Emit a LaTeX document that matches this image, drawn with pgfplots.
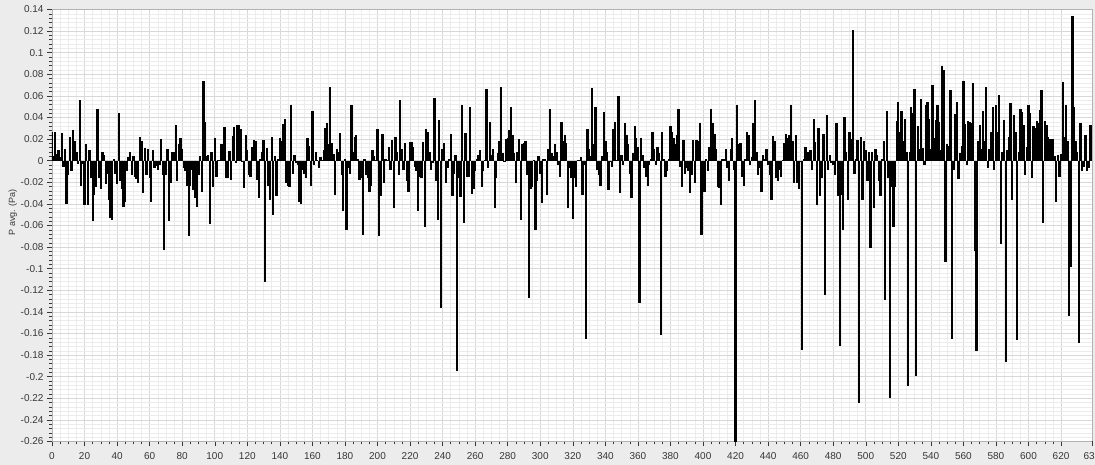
\documentclass[border=0pt]{standalone}
\usepackage{fontspec}
\setmainfont{Liberation Sans}
\usepackage{pgfplots}
\pgfplotsset{compat=1.18}
\definecolor{bgray}{RGB}{236,236,236}
\definecolor{majgrid}{RGB}{216,216,216}
\definecolor{mingrid}{RGB}{236,236,236}
\definecolor{ticktext}{RGB}{55,55,55}
\begin{document}
\begin{tikzpicture}
\fill[bgray] (-52pt,-23.5pt) rectangle (1043pt,441.5pt);
\begin{axis}[
  at={(0pt,0pt)}, anchor=south west,
  scale only axis, width=1040pt, height=432pt,
  xmin=0, xmax=639, ymin=-0.26, ymax=0.14,
  axis background/.style={fill=white},
  /pgf/number format/assume math mode=true,
  xtick={0,20,...,620},
  extra x ticks={639}, extra x tick labels={639},
  extra x tick style={grid=none},
  ytick={-0.26,-0.24,-0.22,-0.2,-0.18,-0.16,-0.14,-0.12,-0.1,-0.08,-0.06,-0.04,-0.02,0,0.02,0.04,0.06,0.08,0.1,0.12,0.14},
  yticklabels={-0.26,-0.24,-0.22,-0.2,-0.18,-0.16,-0.14,-0.12,-0.1,-0.08,-0.06,-0.04,-0.02,0,0.02,0.04,0.06,0.08,0.1,0.12,0.14},
  minor x tick num=3, minor y tick num=4,
  grid=both,
  major grid style={majgrid, line width=0.6pt},
  minor grid style={mingrid, line width=0.5pt},
  tick align=outside, tick pos=left,
  major tick length=5pt, minor tick length=3pt,
  tick style={ticktext, line width=0.5pt},
  axis line style={gray!60},
  ticklabel style={font=\fontsize{10}{12}\selectfont, text=ticktext},
  x tick label style={yshift=-2pt},
  ylabel={P avg. (Pa)},
  ylabel style={font=\fontsize{9}{11}\selectfont, text=ticktext, at={(axis description cs:-0.0376,0.531)}, anchor=center},
]
\addplot[ycomb, black, line width=2.3pt, mark=none] coordinates {
(0,0.027)(1,0.004)(2,0.027)(3,0.006)(4,0.010)(5,0.003)(6,0.026)(7,-0.006)(8,0.011)(9,-0.040)
(10,-0.013)(11,0.022)(12,-0.010)(13,0.028)(14,0.018)(15,0.008)(16,-0.003)(17,0.056)(18,-0.023)(19,-0.003)
(20,-0.041)(21,0.015)(22,-0.041)(23,0.010)(24,-0.016)(25,-0.056)(26,-0.032)(27,-0.024)(28,0.048)(29,-0.016)
(30,-0.026)(31,0.008)(32,0.005)(33,-0.022)(34,-0.012)(35,-0.036)(36,-0.053)(37,-0.055)(38,0.002)(39,-0.012)
(40,-0.022)(41,0.044)(42,-0.019)(43,-0.026)(44,-0.043)(45,-0.038)(46,-0.010)(47,0.003)(48,0.008)(49,-0.013)
(50,0.004)(51,-0.015)(52,-0.017)(53,-0.021)(54,0.022)(55,0.018)(56,-0.030)(57,0.012)(58,-0.013)(59,0.011)
(60,-0.016)(61,-0.038)(62,0.010)(63,-0.007)(64,-0.005)(65,-0.009)(66,-0.004)(67,0.020)(68,-0.013)(69,-0.083)
(70,-0.013)(71,0.011)(72,-0.056)(73,-0.021)(74,0.008)(75,0.008)(76,0.033)(77,-0.019)(78,0.015)(79,0.021)
(80,0.011)(81,-0.007)(82,-0.010)(83,-0.023)(84,-0.070)(85,-0.023)(86,-0.009)(87,-0.027)(88,-0.035)(89,-0.043)
(90,-0.013)(91,0.004)(92,-0.029)(93,0.074)(94,0.036)(95,0.004)(96,0.005)(97,-0.059)(98,0.008)(99,-0.024)
(100,0.021)(101,-0.015)(102,0.001)(103,0.001)(104,0.015)(105,0.015)(106,0.031)(107,-0.016)(108,-0.016)(109,0.009)
(110,-0.018)(111,0.023)(112,0.031)(113,-0.002)(114,0.033)(115,0.033)(116,0.029)(117,-0.001)(118,-0.025)(119,0.024)
(120,0.010)(121,-0.013)(122,-0.015)(123,0.013)(124,0.019)(125,0.018)(126,-0.018)(127,-0.035)(128,0.002)(129,0.008)
(130,0.019)(131,-0.112)(132,0.012)(133,-0.023)(134,-0.036)(135,0.022)(136,-0.050)(137,0.004)(138,-0.033)(139,0.002)
(140,0.021)(141,0.018)(142,0.034)(143,0.039)(144,-0.021)(145,-0.023)(146,-0.024)(147,0.052)(148,-0.012)(149,0.005)
(150,-0.002)(151,-0.004)(152,-0.038)(153,-0.040)(154,-0.009)(155,-0.012)(156,-0.016)(157,0.021)(158,0.014)(159,-0.023)
(160,0.046)(161,-0.004)(162,0.008)(163,0.001)(164,-0.007)(165,0.003)(166,0.001)(167,0.010)(168,0.030)(169,0.035)
(170,0.015)(171,0.068)(172,0.016)(173,0.006)(174,-0.032)(175,0.011)(176,0.008)(177,0.026)(178,-0.013)(179,-0.047)
(180,0.002)(181,-0.064)(182,-0.007)(183,-0.012)(184,0.052)(185,0.008)(186,0.022)(187,0.024)(188,0.002)(189,-0.018)
(190,-0.016)(191,-0.069)(192,0.002)(193,-0.013)(194,-0.016)(195,-0.029)(196,-0.023)(197,0.010)(198,0.004)(199,0.001)
(200,0.029)(201,-0.070)(202,-0.033)(203,0.025)(204,-0.021)(205,0.002)(206,0.001)(207,0.013)(208,-0.009)(209,0.019)
(210,-0.044)(211,0.022)(212,0.008)(213,-0.013)(214,0.056)(215,0.011)(216,-0.009)(217,0.016)(218,-0.019)(219,-0.029)
(220,0.017)(221,0.017)(222,0.013)(223,-0.006)(224,-0.010)(225,-0.047)(226,-0.015)(227,-0.016)(228,0.017)(229,-0.061)
(230,0.029)(231,0.027)(232,0.008)(233,-0.009)(234,-0.002)(235,0.058)(236,-0.019)(237,-0.055)(238,0.038)(239,-0.136)
(240,0.011)(241,0.016)(242,-0.021)(243,-0.007)(244,0.002)(245,0.025)(246,-0.033)(247,-0.012)(248,0.005)(249,-0.195)
(250,-0.016)(251,-0.034)(252,0.052)(253,-0.058)(254,0.026)(255,-0.015)(256,-0.015)(257,0.050)(258,-0.031)(259,-0.026)
(260,-0.010)(261,0.002)(262,0.005)(263,0.010)(264,-0.024)(265,-0.010)(266,0.001)(267,0.066)(268,-0.007)(269,0.036)
(270,0.005)(271,0.011)(272,-0.044)(273,-0.016)(274,0.007)(275,0.018)(276,0.068)(277,0.007)(278,-0.001)(279,0.020)
(280,0.021)(281,0.028)(282,0.050)(283,0.024)(284,0.007)(285,-0.021)(286,0.008)(287,0.020)(288,-0.055)(289,0.015)
(290,0.016)(291,0.018)(292,-0.013)(293,-0.127)(294,-0.026)(295,-0.024)(296,0.001)(297,-0.064)(298,-0.019)(299,0.004)
(300,-0.012)(301,-0.039)(302,0.002)(303,0.002)(304,-0.032)(305,0.011)(306,0.048)(307,0.007)(308,0.004)(309,0.015)
(310,0.008)(311,-0.004)(312,-0.015)(313,0.036)(314,0.018)(315,0.024)(316,0.016)(317,-0.044)(318,-0.007)(319,-0.016)
(320,-0.054)(321,-0.016)(322,-0.024)(323,0.001)(324,0.001)(325,0.003)(326,-0.032)(327,-0.004)(328,-0.165)(329,0.029)
(330,0.011)(331,0.004)(332,0.067)(333,0.015)(334,0.050)(335,-0.009)(336,-0.013)(337,-0.023)(338,0.004)(339,0.045)
(340,0.018)(341,0.008)(342,-0.027)(343,-0.001)(344,-0.006)(345,0.029)(346,0.036)(347,0.001)(348,0.060)(349,-0.030)
(350,0.005)(351,-0.004)(352,0.035)(353,0.024)(354,0.015)(355,-0.012)(356,-0.035)(357,0.007)(358,0.032)(359,0.021)
(360,0.013)(361,-0.132)(362,0.021)(363,0.005)(364,-0.007)(365,-0.015)(366,-0.023)(367,-0.004)(368,0.002)(369,0.027)
(370,0.011)(371,-0.004)(372,0.013)(373,0.007)(374,-0.161)(375,0.027)(376,0.002)(377,-0.015)(378,-0.010)(379,0.002)
(380,0.032)(381,0.027)(382,0.021)(383,0.015)(384,0.024)(385,0.048)(386,-0.006)(387,-0.024)(388,0.019)(389,-0.012)
(390,-0.007)(391,-0.010)(392,-0.030)(393,-0.013)(394,0.019)(395,-0.021)(396,0.019)(397,0.018)(398,0.035)(399,-0.069)
(400,-0.007)(401,-0.029)(402,0.002)(403,-0.010)(404,0.013)(405,0.048)(406,0.035)(407,0.025)(408,0.011)(409,-0.024)
(410,-0.025)(411,-0.041)(412,0.002)(413,0.002)(414,0.011)(415,-0.007)(416,-0.019)(417,0.011)(418,0.021)(419,-0.009)
(420,-0.263)(421,0.052)(422,0.015)(423,0.016)(424,-0.015)(425,-0.023)(426,0.002)(427,0.027)(428,0.024)(429,-0.004)
(430,0.003)(431,0.035)(432,0.056)(433,0.008)(434,-0.013)(435,-0.007)(436,-0.029)(437,0.005)(438,0.002)(439,0.011)
(440,-0.004)(441,-0.013)(442,-0.036)(443,0.023)(444,0.018)(445,-0.016)(446,-0.019)(447,-0.009)(448,-0.015)(449,0.001)
(450,0.016)(451,0.025)(452,0.021)(453,0.024)(454,0.052)(455,0.018)(456,-0.021)(457,0.024)(458,-0.021)(459,-0.026)
(460,-0.001)(461,-0.175)(462,0.002)(463,0.013)(464,0.008)(465,0.008)(466,0.010)(467,-0.009)(468,0.039)(469,0.017)
(470,-0.041)(471,0.030)(472,-0.033)(473,-0.016)(474,0.025)(475,-0.124)(476,0.042)(477,-0.009)(478,0.005)(479,-0.002)
(480,-0.004)(481,-0.013)(482,0.035)(483,-0.033)(484,-0.172)(485,-0.032)(486,-0.064)(487,0.040)(488,0.008)(489,-0.036)
(490,0.027)(491,0.020)(492,0.121)(493,-0.012)(494,0.002)(495,0.019)(496,-0.224)(497,0.022)(498,-0.036)(499,0.018)
(500,0.010)(501,-0.019)(502,0.008)(503,-0.081)(504,0.008)(505,-0.044)(506,0.011)(507,0.005)(508,-0.019)(509,-0.033)
(510,0.002)(511,0.018)(512,-0.129)(513,0.046)(514,-0.016)(515,-0.220)(516,-0.024)(517,-0.061)(518,-0.024)(519,0.037)
(520,0.054)(521,0.027)(522,0.046)(523,0.018)(524,0.039)(525,0.008)(526,-0.209)(527,0.008)(528,0.050)(529,0.044)
(530,0.066)(531,-0.199)(532,0.032)(533,0.011)(534,0.057)(535,0.012)(536,-0.004)(537,0.052)(538,0.054)(539,0.039)
(540,0.011)(541,0.070)(542,0.021)(543,0.038)(544,0.052)(545,0.036)(546,0.010)(547,0.088)(548,0.084)(549,-0.094)
(550,0.015)(551,0.014)(552,0.065)(553,-0.165)(554,-0.009)(555,0.043)(556,0.054)(557,-0.017)(558,0.007)(559,0.014)
(560,0.074)(561,0.034)(562,-0.004)(563,0.037)(564,0.036)(565,0.035)(566,0.072)(567,-0.084)(568,-0.176)(569,0.018)
(570,0.033)(571,0.011)(572,0.046)(573,0.018)(574,0.068)(575,-0.007)(576,0.011)(577,0.027)(578,0.050)(579,-0.009)
(580,0.052)(581,0.027)(582,0.061)(583,-0.077)(584,0.008)(585,0.038)(586,-0.186)(587,0.010)(588,0.022)(589,0.053)
(590,-0.036)(591,0.042)(592,0.027)(593,-0.166)(594,0.008)(595,0.048)(596,0.045)(597,0.033)(598,-0.013)(599,0.013)
(600,0.052)(601,0.044)(602,-0.016)(603,0.032)(604,0.030)(605,0.037)(606,0.035)(607,0.047)(608,0.065)(609,-0.058)
(610,0.037)(611,0.033)(612,0.022)(613,0.020)(614,0.020)(615,0.020)(616,0.004)(617,-0.038)(618,0.005)(619,-0.015)
(620,0.006)(621,0.073)(622,0.022)(623,0.052)(624,0.018)(625,-0.144)(626,-0.098)(627,0.134)(628,0.050)(629,0.018)
(630,0.008)(631,-0.169)(632,0.035)(633,-0.010)(634,-0.006)(635,0.024)(636,-0.010)(637,-0.007)(638,0.033)(639,0.032)
};
\end{axis}
\pgfresetboundingbox
\useasboundingbox (-52pt,-23.5pt) rectangle (1043pt,441.5pt);
\end{tikzpicture}
\end{document}
